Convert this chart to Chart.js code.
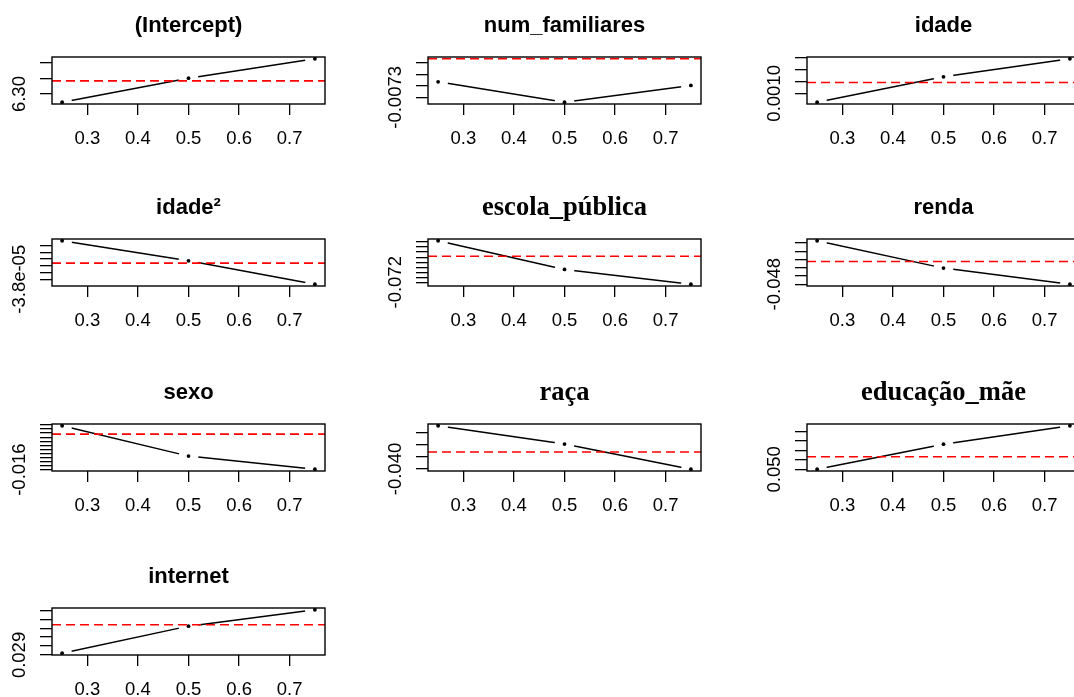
<!DOCTYPE html>
<html lang="pt">
<head>
<meta charset="UTF-8">
<title>Coeficientes por quantil</title>
<script src="https://cdn.jsdelivr.net/npm/chart.js"></script>
<style>
    body {
        margin: 0;
        background: #fff;
        width: 1074px;
        height: 697px;
        overflow: hidden;
        position: relative;
    }
    .panel {
        position: absolute;
        width: 377px;
        height: 184px;
    }
</style>
</head>
<body>
<div id="wrap"></div>
<script>
// quantis estimados e ticks do eixo x
const taus = [0.25, 0.5, 0.75];
const xTicks = [0.3, 0.4, 0.5, 0.6, 0.7];

const titles = ['(Intercept)', 'num_familiares', 'idade', 'idade²', 'escola_pública',
    'renda', 'sexo', 'raça', 'educação_mãe', 'internet'];

// coeficientes em tau = 0.25, 0.5, 0.75
const interceptCoef = [6.2736, 6.3511, 6.4136];
const numFamiliaresCoef = [-0.0071647, -0.0073429, -0.0071960];
const idadeCoef = [0.000627, 0.001692, 0.002452];
const idade2Coef = [-3.2254e-5, -3.5252e-5, -3.8746e-5];
const escolaPublicaCoef = [-0.063738, -0.069441, -0.072388];
const rendaCoef = [-0.042723, -0.046049, -0.048010];
const sexoCoef = [-0.00518, -0.012675, -0.01592];
const racaCoef = [-0.02222, -0.02974, -0.0401];
const educacaoMaeCoef = [0.05002, 0.063204, 0.072896];
const internetCoef = [0.02919, 0.032228, 0.034065];

// estimativas OLS (linha vermelha tracejada)
const olsCoef = [6.3425, -0.0069632, 0.001458, -3.5598e-5, -0.066823,
    -0.045244, -0.00725, -0.032985, 0.056576, 0.032386];

// ticks do eixo y (so o primeiro recebe rotulo)
const yTicks = [
    [6.30, 6.35, 6.40],
    [-0.0073, -0.0072, -0.0071, -0.0070],
    [0.0010, 0.0015, 0.0020, 0.0025],
    [-3.8e-5, -3.7e-5, -3.6e-5, -3.5e-5, -3.4e-5, -3.3e-5],
    [-0.072, -0.071, -0.070, -0.069, -0.068, -0.067, -0.066, -0.065, -0.064],
    [-0.048, -0.047, -0.046, -0.045, -0.044, -0.043],
    [-0.016, -0.015, -0.014, -0.013, -0.012, -0.011, -0.010, -0.009, -0.008, -0.007, -0.006, -0.005],
    [-0.040, -0.035, -0.030, -0.025],
    [0.050, 0.055, 0.060, 0.065, 0.070],
    [0.029, 0.030, 0.031, 0.032, 0.033, 0.034]
];
const yLabels = ['6.30', '-0.0073', '0.0010', '-3.8e-05', '-0.072', '-0.048', '-0.016', '-0.040', '0.050', '0.029'];

const series = [interceptCoef, numFamiliaresCoef, idadeCoef, idade2Coef, escolaPublicaCoef,
    rendaCoef, sexoCoef, racaCoef, educacaoMaeCoef, internetCoef];

const serifTitles = [4, 7, 8];
const colLeft = [0, 376, 755];
const rowTop = [0, 182, 367, 551];

const sansFamily = '"Liberation Sans", Arial, sans-serif';
const serifFamily = '"Liberation Serif", "Times New Roman", serif';
const tickFont = { family: sansFamily, size: 18.5 };

const measure = document.createElement('canvas').getContext('2d');
measure.font = '18.5px ' + sansFamily;

// moldura completa do painel, como no R
const framePlugin = {
    id: 'frame',
    afterDraw(chart) {
        const a = chart.chartArea;
        const ctx = chart.ctx;
        ctx.save();
        ctx.strokeStyle = '#000';
        ctx.lineWidth = 1.4;
        ctx.strokeRect(a.left, a.top, a.right - a.left, a.bottom - a.top);
        ctx.restore();
    }
};

const wrap = document.getElementById('wrap');
const xMin = 0.23, xMax = 0.77;

series.forEach((coef, i) => {
    const col = i % 3, row = Math.floor(i / 3);
    const div = document.createElement('div');
    div.className = 'panel';
    div.style.left = colLeft[col] + 'px';
    div.style.top = rowTop[row] + 'px';
    const canvas = document.createElement('canvas');
    canvas.width = 377;
    canvas.height = 184;
    div.appendChild(canvas);
    wrap.appendChild(div);

    // limites do eixo y: amplitude dos dados + 4%
    const all = coef.concat([olsCoef[i]]);
    const lo = Math.min(...all), hi = Math.max(...all);
    const pad = (hi - lo) * 0.04;

    // centraliza o rotulo girado a ~32px da moldura
    const labelW = measure.measureText(yLabels[i]).width;
    const yPad = 20 - labelW / 2;

    const serif = serifTitles.includes(i);
    const points = taus.map((t, k) => ({ x: t, y: coef[k] }));
    const olsLine = [{ x: xMin, y: olsCoef[i] }, { x: xMax, y: olsCoef[i] }];

    new Chart(canvas, {
        type: 'line',
        data: {
            datasets: [
                { data: olsLine, borderColor: '#ff0000', borderWidth: 1.6, borderDash: [9, 5],
                  pointRadius: 0, fill: false },
                { data: points, showLine: false, pointRadius: 1.9, pointBackgroundColor: '#000',
                  pointBorderWidth: 0 },
                { data: points, showLine: false, pointRadius: 10, pointBackgroundColor: '#fff',
                  pointBorderWidth: 0, clip: 0 },
                { data: points, borderColor: '#000', borderWidth: 1.5, pointRadius: 0, fill: false }
            ]
        },
        options: {
            responsive: false,
            animation: false,
            events: [],
            layout: { padding: 0 },
            plugins: {
                legend: { display: false },
                tooltip: { enabled: false },
                title: {
                    display: true,
                    text: titles[i],
                    color: '#000',
                    font: serif ? { family: serifFamily, size: 26.5, weight: 'bold' }
                                : { family: sansFamily, size: 22, weight: 'bold' },
                    padding: serif ? { top: 10, bottom: 15.2 } : { top: 13, bottom: 17.6 }
                }
            },
            scales: {
                x: {
                    type: 'linear',
                    min: xMin,
                    max: xMax,
                    bounds: 'data',
                    afterBuildTicks: s => { s.ticks = xTicks.map(v => ({ value: v })); },
                    afterFit: s => { s.height = 80; },
                    border: { display: false },
                    grid: { drawOnChartArea: false, drawTicks: true, tickLength: 11, color: '#000', lineWidth: 1.3 },
                    ticks: { autoSkip: false, maxRotation: 0, color: '#000', font: tickFont, padding: 12.5,
                             callback: v => v.toFixed(1) }
                },
                y: {
                    type: 'linear',
                    min: lo - pad,
                    max: hi + pad,
                    bounds: 'data',
                    afterBuildTicks: s => { s.ticks = yTicks[i].map(v => ({ value: v })); },
                    afterFit: s => { s.width = 52; },
                    border: { display: false },
                    grid: { drawOnChartArea: false, drawTicks: true, tickLength: 12, color: '#000', lineWidth: 1.3 },
                    ticks: { autoSkip: false, minRotation: 90, maxRotation: 90, crossAlign: 'center',
                             color: '#000', font: tickFont, padding: yPad,
                             callback: (v, k) => k === 0 ? yLabels[i] : '' }
                },
                // margem direita vazia, mantem o titulo centrado na moldura
                right: {
                    type: 'linear',
                    position: 'right',
                    display: true,
                    afterFit: s => { s.width = 52; },
                    border: { display: false },
                    grid: { display: false },
                    ticks: { display: false }
                }
            }
        },
        plugins: [framePlugin]
    });
});
</script>
</body>
</html>
